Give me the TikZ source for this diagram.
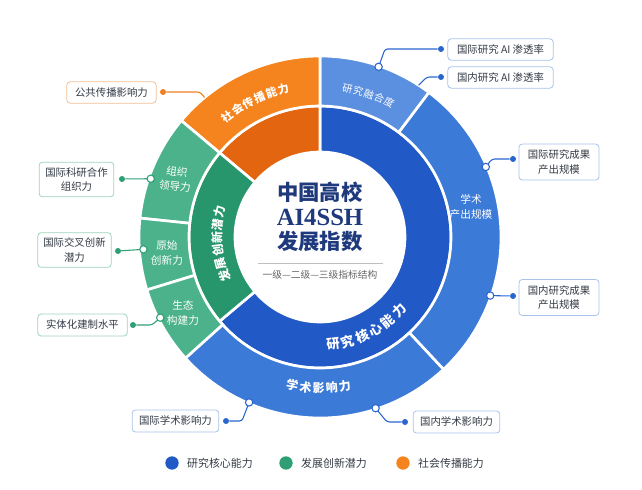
\documentclass[tikz,border=0pt]{standalone}
\usepackage{fontspec}
\setmainfont{Noto Sans CJK SC}
\newfontfamily\titlelatin{Liberation Serif}
\usepackage{tikz}
\usetikzlibrary{positioning}

\definecolor{coreblue}{HTML}{2159C6}
\definecolor{outblue}{HTML}{3C7AD7}
\definecolor{fuseblue}{HTML}{5B90E0}
\definecolor{devgreen}{HTML}{27966D}
\definecolor{outgreen}{HTML}{4BB28C}
\definecolor{socorange}{HTML}{E3650F}
\definecolor{outorange}{HTML}{F5841F}
\definecolor{titlenavy}{HTML}{1F3A7C}
\definecolor{boxtext}{HTML}{333A45}
\definecolor{blueline}{HTML}{A9C3EC}
\definecolor{greenline}{HTML}{9ED3BF}
\definecolor{orangeline}{HTML}{F5BE92}
\definecolor{linkblue}{HTML}{2A64CE}
\definecolor{linkgreen}{HTML}{2E9E74}
\definecolor{linkorange}{HTML}{F08020}

\newcommand{\ringpart}[5]{%
    \filldraw[fill=#5, draw=white, line width=2pt, line join=round] (#1:#4) arc[start angle=#1, end angle=#2, radius=#4] -- (#2:#3) arc[start angle=#2, end angle=#1, radius=#3] -- cycle;}

\newcommand{\arclabel}[6]{%
    \foreach \ch [count=\i, evaluate=\i as \a using #2+(\i-1)*(#3)] in {#1}
        \node[ringtext, font=#6, rotate={\a#5}] at (\a:#4) {\ch};}

\begin{document}
\begin{tikzpicture}[x=0.75pt, y=0.75pt,
    ringtext/.style={text=white, inner sep=0pt},
    partlabel/.style={text=white, font=\fontsize{8}{11}\selectfont, align=center, inner sep=0pt},
    infobox/.style={draw=#1, fill=white, rounded corners=2.5pt, line width=0.6pt, text=boxtext, font=\fontsize{7.8}{11}\selectfont, align=center, inner sep=0pt},
    enddot/.style={circle, fill=#1, inner sep=0pt, minimum size=4.5pt},
    ringdot/.style={circle, draw=#1, fill=white, line width=0.8pt, inner sep=0pt, minimum size=5.5pt},
    link/.style={draw=#1, line width=0.8pt, rounded corners=2pt},
    legdot/.style={circle, fill=#1, inner sep=0pt, minimum size=10pt},
    legtext/.style={text=boxtext, font=\fontsize{8.2}{10}\selectfont, inner sep=0pt}]
    \useasboundingbox (-320,-252) rectangle (322,237);

    \ringpart{-140}{90}{85}{131}{coreblue}
    \ringpart{90}{140}{85}{131}{socorange}
    \ringpart{140}{220}{85}{131}{devgreen}
    \ringpart{53}{90}{131}{181}{fuseblue}
    \ringpart{-47}{53}{131}{181}{outblue}
    \ringpart{-138}{-47}{131}{181}{outblue}
    \ringpart{90}{140}{131}{181}{outorange}
    \ringpart{140}{174}{131}{181}{outgreen}
    \ringpart{174}{197}{131}{181}{outgreen}
    \ringpart{197}{222}{131}{181}{outgreen}

    \arclabel{社,会,传,播,能,力}{127.5}{-4.7}{152}{-90}{\bfseries\fontsize{8.4}{8.4}\selectfont}
    \arclabel{研,究,融,合,度}{79.5}{-4.2}{151}{-90}{\fontsize{7.6}{7.6}\selectfont}
    \arclabel{发,展,创,新,潜,力}{202}{-7.2}{103}{-90}{\bfseries\fontsize{9}{9}\selectfont}
    \arclabel{研,究,核,心,能,力}{-83}{8}{108}{+90}{\bfseries\fontsize{10}{10}\selectfont}
    \arclabel{学,术,影,响,力}{-100.5}{5}{151}{+90}{\bfseries\fontsize{9}{9}\selectfont}

    \node[partlabel, rotate=-8] (lead) at (-144,58) {组织\\领导力};
    \node[partlabel] (orig) at (-153,-16) {原始\\创新力};
    \node[partlabel] (eco) at (-137,-76) {生态\\构建力};
    \node[partlabel] (output) at (151,30) {学术\\产出规模};

    \node[align=center, text=titlenavy, font=\bfseries\fontsize{16}{18.5}\selectfont] (title) at (0,20) {中国高校\\{\titlelatin\fontsize{18.5}{18.5}\selectfont AI4SSH}\\发展指数};
    \draw[black!25, line width=0.5pt] (-62,-26) -- (63,-26);
    \node[text=black!60, font=\fontsize{7.3}{9}\selectfont] (sub) at (0,-38) {一级—二级—三级指标结构};

    \node[infobox=blueline, minimum width=79pt, minimum height=16pt] (b1) at (180.5,187.5) {国际研究 AI 渗透率};
    \node[infobox=blueline, minimum width=79pt, minimum height=16pt] (b2) at (180.5,159.5) {国内研究 AI 渗透率};
    \node[infobox=blueline, minimum width=60pt, minimum height=27pt] (b3) at (239,75) {国际研究成果\\产出规模};
    \node[infobox=blueline, minimum width=60pt, minimum height=27pt] (b4) at (239,-60.5) {国内研究成果\\产出规模};
    \node[infobox=orangeline, minimum width=67pt, minimum height=16pt] (b5) at (-208.5,144.5) {公共传播影响力};
    \node[infobox=greenline, minimum width=56pt, minimum height=26pt] (b6) at (-243.5,57.5) {国际科研合作\\组织力};
    \node[infobox=greenline, minimum width=55pt, minimum height=26pt] (b7) at (-245.5,-13) {国际交叉创新\\潜力};
    \node[infobox=greenline, minimum width=67pt, minimum height=16.5pt] (b8) at (-237.5,-88) {实体化建制水平};
    \node[infobox=blueline, minimum width=65pt, minimum height=16.5pt] (b9) at (-144.5,-184) {国际学术影响力};
    \node[infobox=blueline, minimum width=65pt, minimum height=16.5pt] (b10) at (136.5,-185) {国内学术影响力};

    \coordinate (r1) at (71:180);
    \coordinate (r2) at (57:181);
    \coordinate (r3) at (22.9:180);
    \coordinate (r4) at (-19:180);
    \coordinate (r5) at (129.6:181);
    \coordinate (r6) at (161:179);
    \coordinate (r7) at (184:177);
    \coordinate (r8) at (206.8:179);
    \coordinate (r9) at (246.8:180);
    \coordinate (r10) at (288:180);

    \node[enddot=linkblue] (d1) at (121,188) {};
    \node[enddot=linkblue] (d2) at (121,160) {};
    \node[enddot=linkblue] (d3) at (193,78) {};
    \node[enddot=linkblue] (d4) at (193,-59) {};
    \node[enddot=linkorange] (d5) at (-157,145) {};
    \node[enddot=linkgreen] (d6) at (-198,58) {};
    \node[enddot=linkgreen] (d7) at (-202,-14) {};
    \node[enddot=linkgreen] (d8) at (-187,-88) {};
    \node[enddot=linkblue] (d9) at (-94,-184) {};
    \node[enddot=linkblue] (d10) at (85,-185) {};

    \draw[link=linkblue] (d1) -- ++(-56,0) -- (r1);
    \draw[link=linkblue] (d2) -- ++(-14,0) -- (r2);
    \draw[link=linkblue] (d3) -- ++(-21,0) -- (r3);
    \draw[link=linkblue] (d4) -- (r4);
    \draw[link=linkorange] (d5) -- ++(37,0) -- (r5);
    \draw[link=linkgreen] (d6) -- (r6);
    \draw[link=linkgreen] (d7) -- (r7);
    \draw[link=linkgreen] (d8) -- ++(19,0) -- (r8);
    \draw[link=linkblue] (d9) -- ++(16,0) -- (r9);
    \draw[link=linkblue] (d10) -- ++(-18,0) -- (r10);

    \node[ringdot=linkblue] at (r1) {};
    \node[ringdot=linkblue] at (r3) {};
    \node[ringdot=linkblue] at (r4) {};
    \node[ringdot=linkgreen] at (r6) {};
    \node[ringdot=linkgreen] at (r7) {};
    \node[ringdot=linkgreen] at (r8) {};
    \node[ringdot=linkblue] at (r9) {};
    \node[ringdot=linkblue] at (r10) {};

    \node[legdot=coreblue] (l1) at (-148,-226) {};
    \node[legtext, right=6pt of l1] {研究核心能力};
    \node[legdot=linkgreen] (l2) at (-34,-226) {};
    \node[legtext, right=6pt of l2] {发展创新潜力};
    \node[legdot=outorange] (l3) at (83,-226) {};
    \node[legtext, right=6pt of l3] {社会传播能力};
\end{tikzpicture}
\end{document}
